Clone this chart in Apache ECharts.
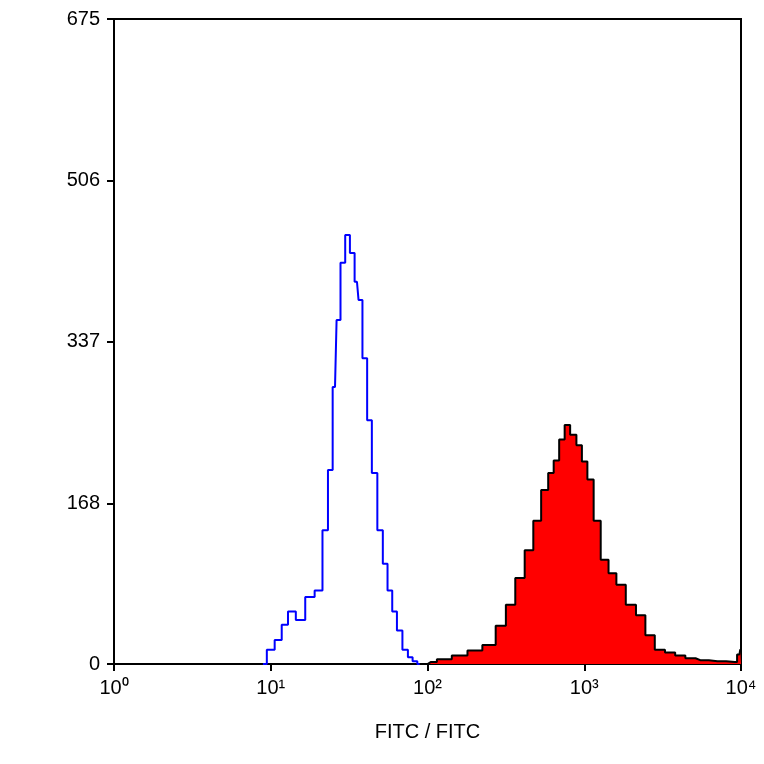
<!DOCTYPE html>
<html><head><meta charset="utf-8">
<script src="https://cdn.jsdelivr.net/npm/echarts@6/dist/echarts.min.js"></script>
<style>html,body{margin:0;background:#fff}#c{width:764px;height:764px}</style>
</head><body><div id="c"></div>
<script>
// x in decades (log10 of FITC), y = count
var blueX = [0.95,1.0,1.05,1.09,1.13,1.19,1.25,1.31,1.35,1.38,1.41,1.43,1.46,1.49,1.52,1.55,1.57,1.6,1.63,1.66,1.7,1.73,1.76,1.79,1.82,1.86,1.89,1.92,1.95];
var blueY = [0,15,25,41,55,46,70,77,140,203,290,360,420,449,430,400,381,320,255,200,140,105,77,55,35,15,7,3,0];
var redX = [1.98,2.02,2.1,2.21,2.3,2.4,2.47,2.53,2.59,2.65,2.7,2.75,2.79,2.82,2.86,2.89,2.93,2.97,3.0,3.04,3.08,3.13,3.18,3.23,3.3,3.36,3.42,3.48,3.55,3.61,3.68,3.74,3.85,3.96,3.99,4.0];
var redY = [0,2,5,9,14,20,40,62,90,119,150,182,200,213,235,250,240,229,212,193,150,109,95,83,62,51,30,15,12,9,6,4,3,2,10,15];
var yTicks = [0,168,337,506,675];
var sup = ['\u2070','\u00b9','\u00b2','\u00b3','\u2074'];

function pts(xs, ys){ return xs.map(function(x,i){return [x, ys[i]];}); }

var chart = echarts.init(document.getElementById('c'));
chart.setOption({
  animation:false,
  grid:{left:114,right:23,top:19,bottom:100},
  xAxis:{type:'value',min:0,max:4,interval:1,
    name:'FITC / FITC',nameLocation:'middle',nameGap:58,
    nameTextStyle:{color:'#000',fontSize:20,fontFamily:'Liberation Sans'},
    axisLine:{lineStyle:{color:'#000',width:2}},
    axisTick:{inside:false,length:7,lineStyle:{color:'#000',width:2}},
    axisLabel:{color:'#000',fontSize:20,fontFamily:'Liberation Sans',margin:14,
      formatter:function(v){return '10'+sup[v];}},
    splitLine:{show:false}},
  yAxis:{type:'value',min:0,max:675,
    axisLine:{show:true,lineStyle:{color:'#000',width:2}},
    axisTick:{show:true,length:7,lineStyle:{color:'#000',width:2},customValues:yTicks},
    axisLabel:{color:'#000',fontSize:20,fontFamily:'Liberation Sans',margin:14,customValues:yTicks},
    splitLine:{show:false}},
  series:[
    {type:'line',data:pts(redX,redY),step:'middle',symbol:'none',
      lineStyle:{color:'#000',width:2},areaStyle:{color:'#ff0000',opacity:1}},
    {type:'line',data:pts(blueX,blueY),step:'middle',symbol:'none',
      lineStyle:{color:'#0000ff',width:2}}
  ],
  graphic:[{type:'rect',shape:{x:114,y:19,width:627,height:645},
    style:{fill:'none',stroke:'#000',lineWidth:2},silent:true}]
});
</script></body></html>
